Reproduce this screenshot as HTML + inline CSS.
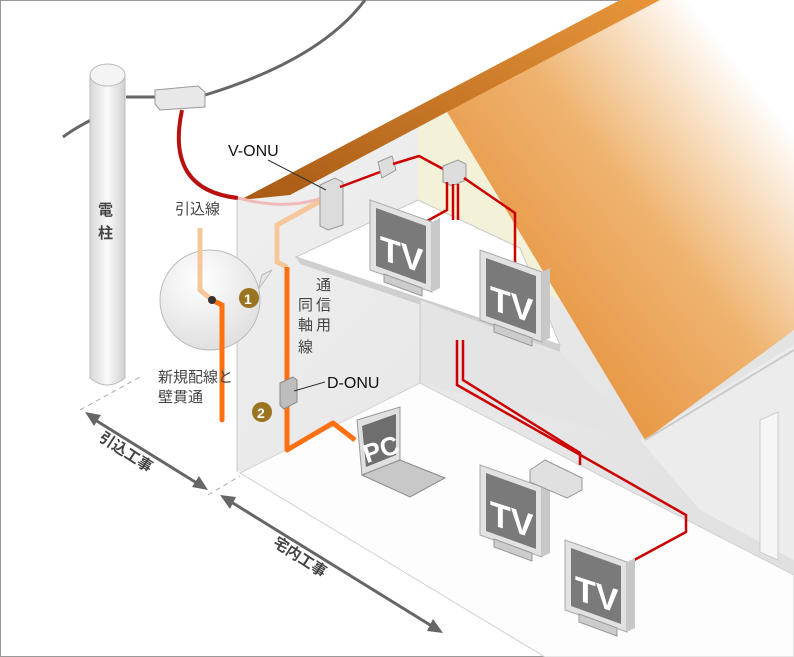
<!DOCTYPE html>
<html><head><meta charset="utf-8"><style>
html,body{margin:0;padding:0;background:#fff}
svg{display:block}
text{font-family:"Liberation Sans","Noto Sans CJK JP",sans-serif}
.j{font-family:"Noto Sans CJK JP",sans-serif;fill:#444;font-size:15px}
</style></head><body>
<svg width="794" height="657" viewBox="0 0 794 657" xmlns="http://www.w3.org/2000/svg">
<defs>
<linearGradient id="roof" x1="0" y1="1" x2="1" y2="0">
<stop offset="0" stop-color="#e07c1c"/><stop offset="0.55" stop-color="#efb470"/><stop offset="0.85" stop-color="#fff"/>
</linearGradient>
<linearGradient id="band" x1="0" y1="1" x2="1" y2="0">
<stop offset="0" stop-color="#a85a14"/><stop offset="1" stop-color="#e8953a"/>
</linearGradient>
<linearGradient id="pole" x1="0" x2="1">
<stop offset="0" stop-color="#d8d8d8"/><stop offset="0.5" stop-color="#fafafa"/><stop offset="1" stop-color="#d0d0d0"/>
</linearGradient>
<radialGradient id="bub" cx="0.4" cy="0.3" r="0.8">
<stop offset="0" stop-color="#fff"/><stop offset="1" stop-color="#dcdcdc"/>
</radialGradient>
<linearGradient id="wall" x1="0" y1="0" x2="1" y2="1">
<stop offset="0" stop-color="#f0f0f0"/><stop offset="1" stop-color="#dedede"/>
</linearGradient>
<g id="tv">
<polygon points="0,0 62,22 62,92 0,70" fill="#e2e2e2" stroke="#aaa"/>
<polygon points="6,8 56,26 56,84 6,66" fill="#7a7a7a"/>
<polygon points="62,22 70,18 70,88 62,92" fill="#c8c8c8"/>
<polygon points="14,74 52,88 52,96 14,82" fill="#ccc" stroke="#999"/>
<text x="10" y="62" font-size="34" font-weight="bold" fill="#fff" transform="skewY(18) translate(0,-6)">TV</text>
</g>
</defs>
<rect x="0.5" y="0.5" width="793" height="656" fill="#fff" stroke="#999"/>

<path d="M63,137 Q75,128 95,118" stroke="#666" stroke-width="3" fill="none"/>
<path d="M126,97 L157,97" stroke="#666" stroke-width="3" fill="none"/>
<path d="M205,95 Q320,60 365,0" stroke="#666" stroke-width="3" fill="none"/>

<path d="M90,75 L90,378 Q107,392 125,378 L125,75 Z" fill="url(#pole)" stroke="#bbb"/>
<ellipse cx="107.5" cy="75" rx="17.5" ry="11" fill="#f4f4f4" stroke="#bbb"/>
<text class="j" x="98" y="215" font-size="17" font-weight="bold" fill="#333">電</text>
<text class="j" x="98" y="238" font-size="17" font-weight="bold" fill="#333">柱</text>

<polygon points="155,90 198,86 205,92 205,107 160,110 155,104" fill="#e8e8e8" stroke="#999"/>
<path d="M182,110 Q165,190 238,198" stroke="#b80f0f" stroke-width="4" fill="none"/>

<polygon points="237,200 447,112 794,290 794,657 545,657 237,470" fill="url(#wall)"/>
<polygon points="418,122 447,112 560,300 418,230" fill="#f3f2d8"/>
<polygon points="296,257 418,200 520,248 560,345" fill="#fff" stroke="#c8c8c8"/>
<polygon points="296,257 560,345 560,352 300,264" fill="#cfcfcf"/>
<polygon points="420,300 560,352 640,440 420,383" fill="#e4e4e4"/>
<line x1="420" y1="300" x2="420" y2="384" stroke="#c8c8c8"/>
<polygon points="240,473 420,383 794,575 794,657 545,657" fill="#fdfdfd" stroke="#d0d0d0"/>
<polygon points="640,440 794,345 794,560 700,510" fill="#ececec"/>
<polygon points="760,420 778,412 778,560 760,552" fill="#f6f6f6" stroke="#ccc"/>
<line x1="237" y1="200" x2="237" y2="472" stroke="#c8c8c8"/>

<polygon points="447,112 640,0 794,0 794,330 645,440" fill="url(#roof)"/>
<polygon points="240,200 620,0 660,0 447,112 290,195" fill="url(#band)"/>
<line x1="645" y1="440" x2="794" y2="350" stroke="#ccc" stroke-width="2"/>

<path d="M238,198 Q290,212 330,195" stroke="#f2b9b9" stroke-width="3" fill="none"/>

<path d="M262,275 L272,270 L258,290 Z" fill="#e6e6e6" stroke="#bbb"/>
<circle cx="210" cy="300" r="50" fill="url(#bub)" stroke="#bbb"/>
<path d="M200,228 L200,290 L212,300" stroke="#f6c79a" stroke-width="5" fill="none"/>
<path d="M212,300 L222,305 L222,420" stroke="#ff7010" stroke-width="5" fill="none" stroke-linecap="round"/>
<circle cx="212" cy="300" r="4" fill="#333"/>
<circle cx="249" cy="298" r="10" fill="#9a7420"/><text x="244" y="304" font-size="14" font-weight="bold" fill="#fff">1</text>

<path d="M335,193 L277,225 L277,262 L287,267" stroke="#f6c79a" stroke-width="5" fill="none"/>
<path d="M287,267 L287,450 L333,423 L355,440" stroke="#ff7010" stroke-width="5" fill="none" stroke-linejoin="round"/>
<polygon points="320,185 335,178 343,182 343,225 328,230 320,226" fill="#dcdcdc" stroke="#999"/>
<line x1="268" y1="160" x2="326" y2="190" stroke="#333"/>
<text x="228" y="156" font-size="16" fill="#111">V-ONU</text>
<text class="j" x="175" y="214" font-size="16">引込線</text>

<polyline points="340,187 380,172" stroke="#c00" stroke-width="2.5" fill="none"/>
<polygon points="378,162 392,156 396,170 382,178" fill="#ddd" stroke="#999"/>
<polyline points="393,164 419,156 445,170" stroke="#c00" stroke-width="2.5" fill="none"/>
<polygon points="443,166 458,160 466,164 466,180 452,186 443,182" fill="#ddd" stroke="#999"/>
<polyline points="447,182 447,210 420,225" stroke="#c00" stroke-width="2.5" fill="none"/>
<polyline points="464,178 515,213 515,267" stroke="#c00" stroke-width="2.5" fill="none"/>
<polyline points="453,184 453,220" stroke="#c00" stroke-width="2.5" fill="none"/>
<polyline points="458,184 458,220" stroke="#c00" stroke-width="2.5" fill="none"/>
<polyline points="457,340 457,385 686,515 686,532 612,572" stroke="#c00" stroke-width="2.5" fill="none"/>
<polyline points="463,340 463,380 580,453 580,465" stroke="#c00" stroke-width="2.5" fill="none"/>
<polyline points="540,485 520,495" stroke="#c00" stroke-width="2.5" fill="none"/>

<use href="#tv" x="370" y="200"/>
<use href="#tv" x="480" y="250"/>
<use href="#tv" x="480" y="465"/>
<use href="#tv" x="565" y="540"/>

<polygon points="530,470 545,460 582,478 582,490 567,498 530,482" fill="#e0e0e0" stroke="#999"/>

<polygon points="357,420 400,407 400,460 362,475" fill="#e0e0e0" stroke="#999"/>
<polygon points="362,426 396,414 396,455 366,467" fill="#6e6e6e"/>
<text x="363" y="460" font-size="26" font-weight="bold" fill="#fff" transform="rotate(-18 375 450)">PC</text>
<polygon points="362,475 400,460 445,478 410,497" fill="#c8c8c8" stroke="#888"/>

<polygon points="280,383 293,377 297,380 297,402 284,409 280,405" fill="#bdbdbd" stroke="#888"/>
<line x1="294" y1="391" x2="325" y2="382" stroke="#333"/>
<text x="327" y="388" font-size="16" fill="#111">D-ONU</text>
<circle cx="262" cy="412" r="10" fill="#9a7420"/><text x="257" y="418" font-size="14" font-weight="bold" fill="#fff">2</text>

<text class="j" x="316" y="290" font-size="16">通</text>
<text class="j" x="316" y="310" font-size="16">信</text>
<text class="j" x="316" y="330" font-size="16">用</text>
<text class="j" x="298" y="310" font-size="16">同</text>
<text class="j" x="298" y="330" font-size="16">軸</text>
<text class="j" x="298" y="352" font-size="16">線</text>
<text class="j" x="158" y="382" font-size="13">新規配線と</text>
<text class="j" x="158" y="402" font-size="13">壁貫通</text>

<line x1="80" y1="410" x2="140" y2="377" stroke="#aaa" stroke-dasharray="5,4"/>
<line x1="208" y1="495" x2="240" y2="476" stroke="#aaa" stroke-dasharray="5,4"/>

<g stroke="#666" stroke-width="3" fill="#666">
<line x1="92" y1="418" x2="200" y2="485"/>
<polygon points="85,412 101,415 94,426" stroke="none"/>
<polygon points="208,490 192,487 199,476" stroke="none"/>
<line x1="228" y1="500" x2="435" y2="628"/>
<polygon points="220,495 236,497 230,509" stroke="none"/>
<polygon points="443,633 427,631 433,619" stroke="none"/>
</g>
<text class="j" font-size="19" font-weight="bold" fill="#555" transform="translate(98,440) rotate(33)">引込工事</text>
<text class="j" font-size="19" font-weight="bold" fill="#555" transform="translate(272,545) rotate(33)">宅内工事</text>
</svg>
</body></html>
